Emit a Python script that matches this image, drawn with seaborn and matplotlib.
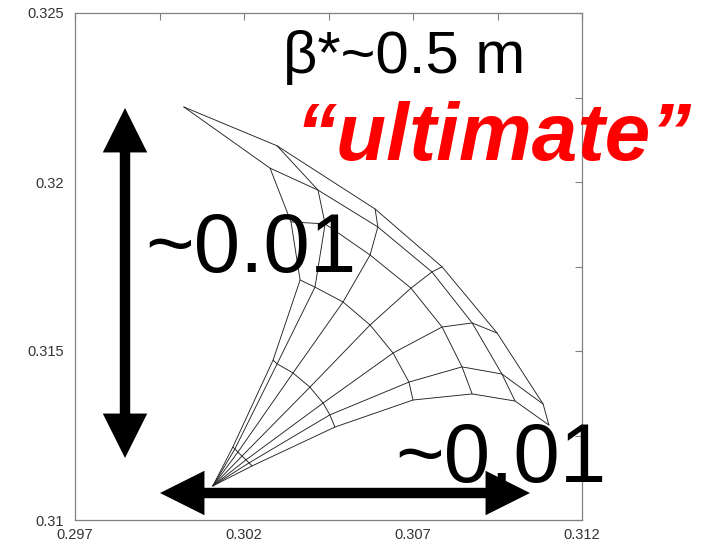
import matplotlib
matplotlib.use("Agg")
import matplotlib.pyplot as plt
import numpy as np
import pandas as pd
import seaborn as sns
from matplotlib.patches import FancyArrowPatch

# Tune footprint: working point at zero amplitude, then six amplitude rings,
# each sampled at seven phase-space angles (index 0 = horizontal, 6 = vertical).
q0 = (0.30108, 0.31101)

qx_r1 = [0.30224, 0.30215, 0.30206, 0.30194, 0.30182, 0.30173, 0.30167]
qy_r1 = [0.31160, 0.31169, 0.31178, 0.31189, 0.31201, 0.31210, 0.31216]

qx_r2 = [0.30469, 0.30454, 0.30434, 0.30395, 0.30345, 0.30298, 0.30286]
qy_r2 = [0.31275, 0.31311, 0.31346, 0.31393, 0.31435, 0.31462, 0.31473]

qx_r3 = [0.30700, 0.30688, 0.30641, 0.30573, 0.30493, 0.30410, 0.30366]
qy_r3 = [0.31355, 0.31408, 0.31494, 0.31577, 0.31645, 0.31689, 0.31710]

qx_r4 = [0.30875, 0.30845, 0.30786, 0.30694, 0.30573, 0.30440, 0.30339]
qy_r4 = [0.31373, 0.31453, 0.31571, 0.31686, 0.31784, 0.31876, 0.31882]

qx_r5 = [0.31002, 0.30963, 0.30875, 0.30756, 0.30596, 0.30419, 0.30277]
qy_r5 = [0.31352, 0.31432, 0.31583, 0.31734, 0.31867, 0.31976, 0.32041]

qx_r6 = [0.31102, 0.31085, 0.30949, 0.30786, 0.30588, 0.30298, 0.30022]
qy_r6 = [0.31281, 0.31343, 0.31553, 0.31749, 0.31920, 0.32107, 0.32222]

x_ticks = [0.297, 0.2995, 0.302, 0.3045, 0.307, 0.3095, 0.312]
x_labels = ["0.297", "", "0.302", "", "0.307", "", "0.312"]
y_ticks = [0.31, 0.3125, 0.315, 0.3175, 0.32, 0.3225, 0.325]
y_labels = ["0.31", "", "0.315", "", "0.32", "", "0.325"]

rings_x = [qx_r1, qx_r2, qx_r3, qx_r4, qx_r5, qx_r6]
rings_y = [qy_r1, qy_r2, qy_r3, qy_r4, qy_r5, qy_r6]
n_ang = len(qx_r1)

# Build one polyline per segment id: radial lines first, then the rings.
rows = []
seg = 0
for j in range(n_ang):
    rows.append((seg, 0, q0[0], q0[1]))
    for k, (rx, ry) in enumerate(zip(rings_x, rings_y), start=1):
        rows.append((seg, k, rx[j], ry[j]))
    seg += 1
for rx, ry in zip(rings_x, rings_y):
    for j in range(n_ang):
        rows.append((seg, j, rx[j], ry[j]))
    seg += 1
df = pd.DataFrame(rows, columns=["seg", "order", "qx", "qy"])

sns.set_style("white")
plt.rcParams["font.family"] = ["Liberation Sans", "DejaVu Sans"]

fig = plt.figure(figsize=(7.04, 5.45), dpi=100)
ax = fig.add_axes([75 / 704, 25 / 545, 507 / 704, 507 / 545])

sns.lineplot(data=df, x="qx", y="qy", units="seg", estimator=None, sort=False,
             color="#222222", linewidth=0.65, ax=ax, legend=False)

ax.set_xlim(0.297, 0.312)
ax.set_ylim(0.31, 0.325)
ax.set_xticks(x_ticks, x_labels)
ax.set_yticks(y_ticks, y_labels)
ax.set_xlabel("")
ax.set_ylabel("")
ax.tick_params(axis="both", direction="in", top=True, right=True, length=5,
               width=0.8, color="#808080", labelcolor="#333333", labelsize=10.5)
ax.tick_params(axis="x", pad=6)
ax.tick_params(axis="y", pad=8)
for sp in ax.spines.values():
    sp.set_color("#808080")
    sp.set_linewidth(0.9)

# Double-headed scale arrows (two single-headed halves meeting in the middle)
def double_arrow(p1, p2):
    mid = ((p1[0] + p2[0]) / 2, (p1[1] + p2[1]) / 2)
    for end in (p1, p2):
        a = FancyArrowPatch(mid, end, transform=fig.transFigure,
                            arrowstyle="simple,head_length=32,head_width=32,tail_width=7.5",
                            mutation_scale=1, color="black", lw=0,
                            shrinkA=0, shrinkB=0, zorder=5)
        fig.add_artist(a)

def fpx(x, y):
    return (x / 704, 1 - y / 545)

double_arrow(fpx(125, 108), fpx(125, 458))
double_arrow(fpx(160, 493), fpx(530, 493))

fig.text(*fpx(283, 73), "β*~0.5 m", fontsize=43, ha="left", va="baseline", color="black")
fig.text(*fpx(295, 160), "\u201cultimate\u201d", fontsize=59, ha="left", va="baseline",
         color="#ff0000", fontweight="bold", fontstyle="italic")
fig.text(*fpx(145, 272), "~0.01", fontsize=60, ha="left", va="baseline", color="black", zorder=6)
fig.text(*fpx(395, 482), "~0.01", fontsize=60, ha="left", va="baseline", color="black", zorder=6)

fig.savefig("out.png", dpi=100)
